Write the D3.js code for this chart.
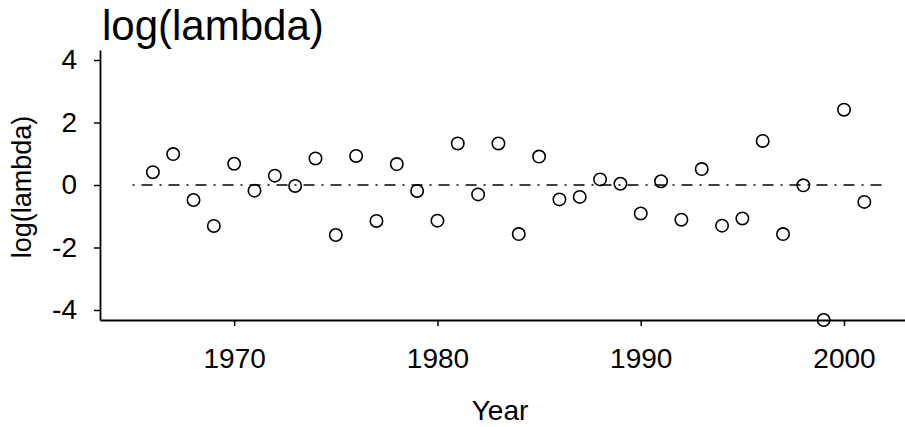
<!DOCTYPE html>
<html>
<head>
<meta charset="utf-8">
<script src="https://cdn.jsdelivr.net/npm/d3@7"></script>
<style>
    body { margin: 0; background: #fff; }
    text { font-family: "Liberation Sans", Arial, sans-serif; fill: #000; }
</style>
</head>
<body>
<div id="chart"></div>
<script>
const SVG_WIDTH = 905;
const SVG_HEIGHT = 427;
const PLOT = { left: 100, right: 905, top: 50, bottom: 320 };
const FONT = "'Liberation Sans', Arial, sans-serif";

const years = [
    1966, 1967, 1968, 1969, 1970, 1971, 1972, 1973, 1974, 1975,
    1976, 1977, 1978, 1979, 1980, 1981, 1982, 1983, 1984, 1985,
    1986, 1987, 1988, 1989, 1990, 1991, 1992, 1993, 1994, 1995,
    1996, 1997, 1998, 1999, 2000, 2001
];
const logLambda = [
    0.41, 0.99, -0.48, -1.31, 0.68, -0.18, 0.30, -0.03, 0.85, -1.60,
    0.93, -1.15, 0.67, -0.19, -1.14, 1.33, -0.30, 1.33, -1.57, 0.91,
    -0.46, -0.38, 0.18, 0.04, -0.91, 0.12, -1.11, 0.51, -1.30, -1.07,
    1.41, -1.57, -0.01, -4.32, 2.41, -0.54
];
const xTicks = [1970, 1980, 1990, 2000];
const yTicks = [-4, -2, 0, 2, 4];
const refLineYears = [1965, 2002];
const refLineValue = 0;

const getScales = () => {
    const x = d3.scaleLinear()
        .domain([1963.4, 2003.0])
        .range([PLOT.left, PLOT.right]);

    const y = d3.scaleLinear()
        .domain([-4.32, 4.32])
        .range([PLOT.bottom, PLOT.top]);

    return { x, y };
};

const appendAxes = (svg, scales) => {
    const xAxis = svg.append("g")
        .attr("transform", `translate(0,${PLOT.bottom})`)
        .call(d3.axisBottom(scales.x)
            .tickValues(xTicks)
            .tickFormat(d => String(d))
            .tickSize(6)
            .tickSizeOuter(0)
            .tickPadding(22)
        );
    xAxis.select(".domain").attr("stroke-width", 1.8);
    xAxis.selectAll(".tick line").attr("stroke-width", 1.5);
    xAxis.selectAll("text")
        .attr("font-size", 28)
        .style("font-family", FONT);

    const yAxis = svg.append("g")
        .attr("transform", `translate(${PLOT.left},0)`)
        .call(d3.axisLeft(scales.y)
            .tickValues(yTicks)
            .tickFormat(d => String(d))
            .tickSize(6)
            .tickSizeOuter(0)
            .tickPadding(17)
        );
    yAxis.select(".domain").attr("stroke-width", 1.8);
    yAxis.selectAll(".tick line").attr("stroke-width", 1.5);
    yAxis.selectAll("text")
        .attr("font-size", 28)
        .style("font-family", FONT);
};

const appendAnnotations = (svg, scales) => {
    svg.append("text")
        .attr("x", 102)
        .attr("y", 40)
        .attr("font-size", 42)
        .text("log(lambda)");

    svg.append("text")
        .attr("x", 500)
        .attr("y", 420)
        .attr("text-anchor", "middle")
        .attr("font-size", 28)
        .text("Year");

    svg.append("text")
        .attr("transform", `translate(31,${scales.y(0) + 2}) rotate(-90)`)
        .attr("text-anchor", "middle")
        .attr("font-size", 27)
        .text("log(lambda)");
};

const appendData = (svg, scales) => {
    svg.append("line")
        .attr("x1", scales.x(refLineYears[0]))
        .attr("x2", scales.x(refLineYears[1]))
        .attr("y1", scales.y(refLineValue))
        .attr("y2", scales.y(refLineValue))
        .attr("stroke", "#000")
        .attr("stroke-width", 1.5)
        .attr("stroke-dasharray", "2,7,11,7");

    svg.selectAll(".pt")
        .data(years.map((yr, i) => ({ year: yr, value: logLambda[i] })))
        .enter()
        .append("circle")
        .attr("class", "pt")
        .attr("cx", d => scales.x(d.year))
        .attr("cy", d => scales.y(d.value))
        .attr("r", 6.2)
        .attr("fill", "none")
        .attr("stroke", "#000")
        .attr("stroke-width", 1.6);
};

const drawChart = (containerId) => {
    const container = d3.select("#" + containerId);
    container.html("");

    const svg = container.append("svg")
        .attr("width", SVG_WIDTH)
        .attr("height", SVG_HEIGHT);

    const scales = getScales();

    appendAxes(svg, scales);
    appendData(svg, scales);
    appendAnnotations(svg, scales);
};

drawChart("chart");
</script>
</body>
</html>
